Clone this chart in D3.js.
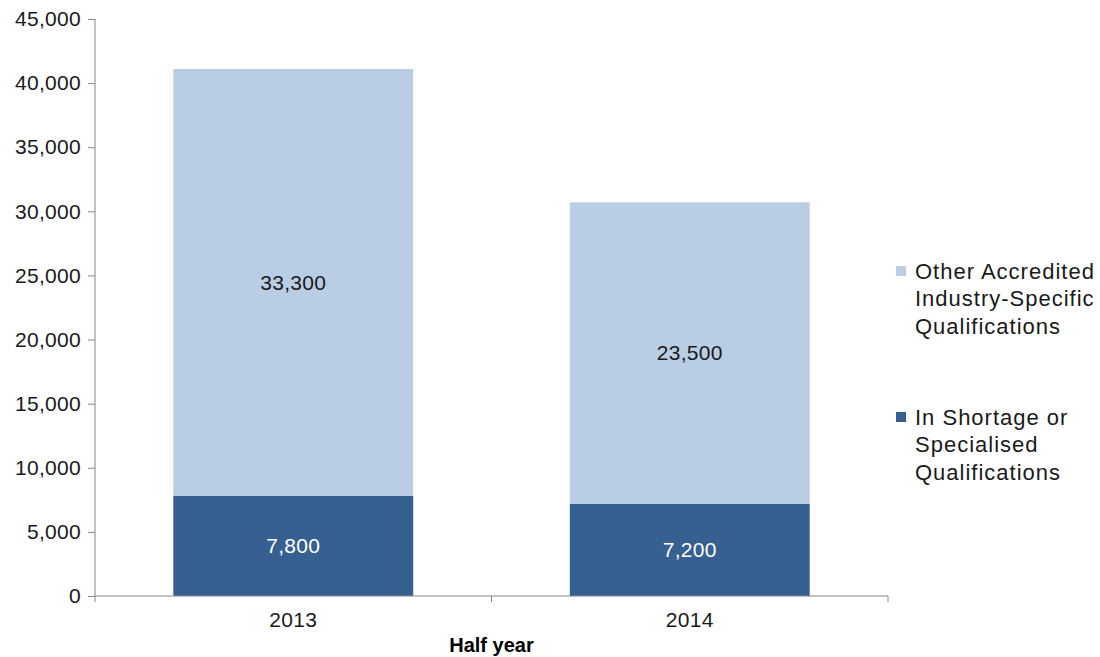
<!DOCTYPE html>
<html><head><meta charset="utf-8">
<script src="https://cdn.jsdelivr.net/npm/d3@7"></script>
<style>body{margin:0;background:#fff}svg{display:block}text{font-family:"Liberation Sans",Arial,sans-serif}</style>
</head><body>
<svg id="c" width="1100" height="657"></svg>
<script>
const categories = ["2013", "2014"];
const seriesNames = ["In Shortage or Specialised Qualifications", "Other Accredited Industry-Specific Qualifications"];
const shortageValues = [7800, 7200];
const otherValues = [33300, 23500];
const yTicks = [0, 5000, 10000, 15000, 20000, 25000, 30000, 35000, 40000, 45000];
const legendLines = [["Other Accredited", "Industry-Specific", "Qualifications"], ["In Shortage or", "Specialised", "Qualifications"]];
const colors = ["#376092", "#B9CDE5"];

const svg = d3.select("#c");
const fs = 21;
const x = d3.scaleBand().domain(categories).range([95, 888]).paddingInner(0.395).paddingOuter(0.1975);
const y = d3.scaleLinear().domain([0, 45000]).range([596, 19]);
const axisColor = "#868686";

const data = categories.map((c, i) => ({cat: c, s: shortageValues[i], o: otherValues[i]}));
const stack = d3.stack().keys(["s", "o"])(data);

stack.forEach((layer, li) => {
  svg.append("g").selectAll("rect").data(layer).join("rect")
    .attr("x", d => x(d.data.cat))
    .attr("width", x.bandwidth())
    .attr("y", d => y(d[1]))
    .attr("height", d => y(d[0]) - y(d[1]))
    .attr("fill", colors[li]);
  svg.append("g").selectAll("text").data(layer).join("text")
    .attr("x", d => x(d.data.cat) + x.bandwidth() / 2)
    .attr("y", d => (y(d[0]) + y(d[1])) / 2)
    .attr("dy", "0.35em")
    .attr("text-anchor", "middle")
    .attr("font-size", fs)
    .attr("letter-spacing", 0.3)
    .attr("fill", li === 0 ? "#fff" : "#1a1a1a")
    .text(d => d3.format(",")(d[1] - d[0]));
});

// y axis
const ya = svg.append("g").attr("transform", "translate(95,0)")
  .call(d3.axisLeft(y).tickValues(yTicks).tickFormat(d3.format(",")).tickSize(7).tickPadding(7));
ya.select(".domain").attr("stroke", axisColor).attr("d", `M0,${y(45000)}V${y(0)}`);
ya.selectAll(".tick line").attr("stroke", axisColor);
ya.selectAll(".tick text").attr("font-size", fs).attr("letter-spacing", 0.3).attr("fill", "#1a1a1a").style("font-family", '"Liberation Sans",Arial,sans-serif');

// x axis
const xa = svg.append("g").attr("transform", `translate(0,${y(0)})`)
  .call(d3.axisBottom(x).tickSize(0).tickPadding(16));
xa.select(".domain").attr("stroke", axisColor).attr("d", "M95,0H888");
xa.selectAll(".tick text").attr("font-size", fs).attr("letter-spacing", 0.3).attr("fill", "#1a1a1a").style("font-family", '"Liberation Sans",Arial,sans-serif');
const bounds = [x.range()[0], (x(categories[0]) + x.bandwidth() + x(categories[1])) / 2, x.range()[1]];
xa.selectAll("line.sep").data(bounds).join("line").attr("class", "sep")
  .attr("x1", d => d).attr("x2", d => d).attr("y1", 0).attr("y2", 6).attr("stroke", axisColor);

svg.append("text").attr("x", bounds[1]).attr("y", 652).attr("text-anchor", "middle")
  .attr("font-size", 20).attr("font-weight", "bold").attr("fill", "#000").text("Half year");

// legend
const legY = [271, 417];
const legendColors = [colors[1], colors[0]];
legendLines.forEach((lines, i) => {
  svg.append("rect").attr("x", 896).attr("y", legY[i] - 5).attr("width", 10).attr("height", 10).attr("fill", legendColors[i]);
  lines.forEach((t, j) => {
    svg.append("text").attr("x", 915).attr("y", legY[i] + j * 27.5).attr("dy", "0.35em")
      .attr("font-size", 22).attr("letter-spacing", 1).attr("fill", "#1a1a1a").text(t);
  });
});
</script>
</body></html>
